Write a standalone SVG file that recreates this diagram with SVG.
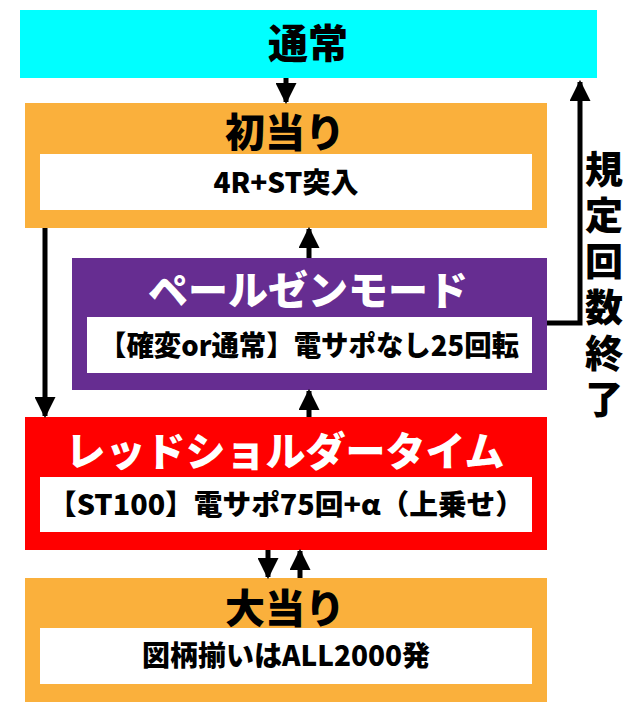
<svg xmlns="http://www.w3.org/2000/svg" width="640" height="725" viewBox="0 0 640 725">
<style>
text{font-family:"Noto Sans CJK JP","Noto Sans",sans-serif;font-weight:900;text-anchor:middle}
.t{font-size:40px}
.v{font-size:38px}
.s{font-size:28px;fill:#000}
.w{fill:#fff}
.ln{stroke:#000;stroke-width:5;fill:none}
</style>
<defs>
<marker id="ah" viewBox="0 0 10 10" refX="9" refY="5" markerWidth="4.2" markerHeight="4.2" orient="auto"><path d="M0,0L10,5L0,10z" fill="#000"/></marker>
</defs>
<rect width="640" height="725" fill="#fff"/>
<g id="n1"><rect x="20" y="10" width="577" height="68" fill="#00ffff"/><text class="t" x="308" y="58">通常</text></g>
<g id="n2"><rect x="25" y="103" width="522" height="125" fill="#fab03c"/><text class="t" x="285" y="147">初当り</text><rect x="40" y="154" width="492" height="56" fill="#fff"/><text class="s" x="286" y="193">4R+ST突入</text></g>
<g id="n3"><rect x="72" y="258" width="475" height="132" fill="#662d91"/><text class="t w" x="308" y="305">ペールゼンモード</text><rect x="87" y="317" width="445" height="56" fill="#fff"/><text class="s" x="309" y="356" textLength="420" lengthAdjust="spacingAndGlyphs">【確変or通常】電サポなし25回転</text></g>
<g id="n4"><rect x="25" y="417" width="522" height="133" fill="#ff0000"/><text class="t w" x="285" y="466">レッドショルダータイム</text><rect x="40" y="477" width="492" height="55" fill="#fff"/><text class="s" x="286" y="515" textLength="476" lengthAdjust="spacingAndGlyphs">【ST100】電サポ75回+α（上乗せ）</text></g>
<g id="n5"><rect x="25" y="578" width="522" height="124" fill="#fab03c"/><text class="t" x="285" y="623">大当り</text><rect x="40" y="628" width="492" height="56" fill="#fff"/><text class="s" x="286" y="666">図柄揃いはALL2000発</text></g>
<g id="label"><text class="v" x="604" y="183">規</text><text class="v" x="604" y="229">定</text><text class="v" x="604" y="275">回</text><text class="v" x="604" y="321">数</text><text class="v" x="604" y="367">終</text><text class="v" x="604" y="413">了</text></g>
<g id="connectors">
<line class="ln" x1="286" y1="78" x2="286" y2="102" marker-end="url(#ah)"/>
<line class="ln" x1="45" y1="228" x2="45" y2="416" marker-end="url(#ah)"/>
<line class="ln" x1="309" y1="258" x2="309" y2="229" marker-end="url(#ah)"/>
<line class="ln" x1="309" y1="417" x2="309" y2="391" marker-end="url(#ah)"/>
<line class="ln" x1="268" y1="550" x2="268" y2="577" marker-end="url(#ah)"/>
<line class="ln" x1="300" y1="578" x2="300" y2="551" marker-end="url(#ah)"/>
<polyline class="ln" points="547,323 580,323 580,82" marker-end="url(#ah)"/>
</g>
</svg>
